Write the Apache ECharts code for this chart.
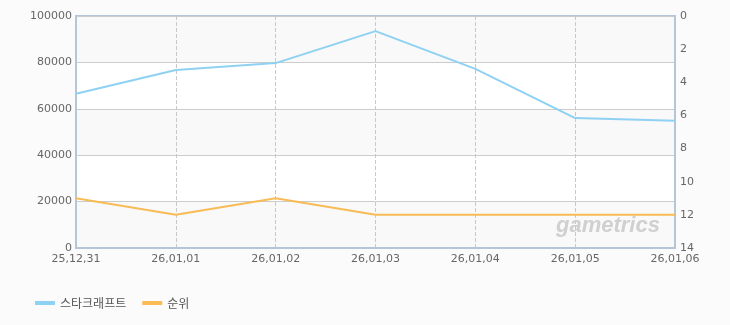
<!DOCTYPE html>
<html><head><meta charset="utf-8">
<script src="https://cdn.jsdelivr.net/npm/echarts@6/dist/echarts.min.js"></script>
<style>html,body{margin:0;padding:0;background:#fbfbfb}#c{width:730px;height:325px}</style>
</head><body><div id="c"></div>
<script>
var categories = ['25,12,31','26,01,01','26,01,02','26,01,03','26,01,04','26,01,05','26,01,06'];
var seriesNames = ['스타크래프트','순위'];
var usersValues = [66500, 76700, 79700, 93500, 77200, 56000, 54800];
var rankValues = [11, 12, 11, 12, 12, 12, 12];

var chart = echarts.init(document.getElementById('c'), null, {renderer:'canvas'});
var axisColor = '#b4c6d8';
chart.setOption({
  backgroundColor: '#fbfbfb',
  animation: false,
  grid: {left:76, right:55, top:16, bottom:77, show:true, borderColor:axisColor, borderWidth:2, backgroundColor:'transparent'},
  legend: {
    left: 30, top: 292, itemWidth: 20, itemHeight: 4, itemGap: 16, icon:'rect',
    data: seriesNames,
    textStyle: {color:'#555', fontSize:12, fontFamily:'Noto Sans CJK KR'}
  },
  graphic: [{
    type:'text', left: 556, top: 215, z: 100,
    style:{text:'gametrics', fontStyle:'italic', fontWeight:'bold', fontSize:22, fontFamily:'Liberation Sans', fill:'#d0d0d0'}
  }],
  xAxis: {
    type:'category', data: categories, boundaryGap:false,
    axisLine:{lineStyle:{color:axisColor, width:2}},
    axisTick:{show:false},
    axisLabel:{color:'#666', fontSize:11, margin:6, fontFamily:'DejaVu Sans'},
    splitLine:{show:true, lineStyle:{color:'#c8c8c8', type:'dashed'}}
  },
  yAxis: [{
    type:'value', min:0, max:100000, interval:20000,
    axisLine:{show:true, lineStyle:{color:axisColor, width:2}},
    axisTick:{show:false},
    axisLabel:{color:'#666', fontSize:11, margin:4, fontFamily:'DejaVu Sans', formatter:function(v){return String(v);}},
    splitLine:{lineStyle:{color:'#cccccc'}},
    splitArea:{show:true, areaStyle:{color:['#f9f9f9','#ffffff']}}
  },{
    type:'value', min:0, max:14, interval:2, inverse:true,
    axisLine:{show:true, lineStyle:{color:axisColor, width:2}},
    axisTick:{show:false},
    axisLabel:{color:'#666', fontSize:11, margin:5, fontFamily:'DejaVu Sans'},
    splitLine:{show:false}
  }],
  series: [{
    name: seriesNames[0], type:'line', data: usersValues, yAxisIndex:0,
    showSymbol:false, symbol:'none', lineStyle:{color:'#8ed1f2', width:2}, itemStyle:{color:'#8ed1f2'}
  },{
    name: seriesNames[1], type:'line', data: rankValues, yAxisIndex:1,
    showSymbol:false, symbol:'none', lineStyle:{color:'#f8bb55', width:2}, itemStyle:{color:'#f8bb55'}
  }]
});
</script></body></html>
